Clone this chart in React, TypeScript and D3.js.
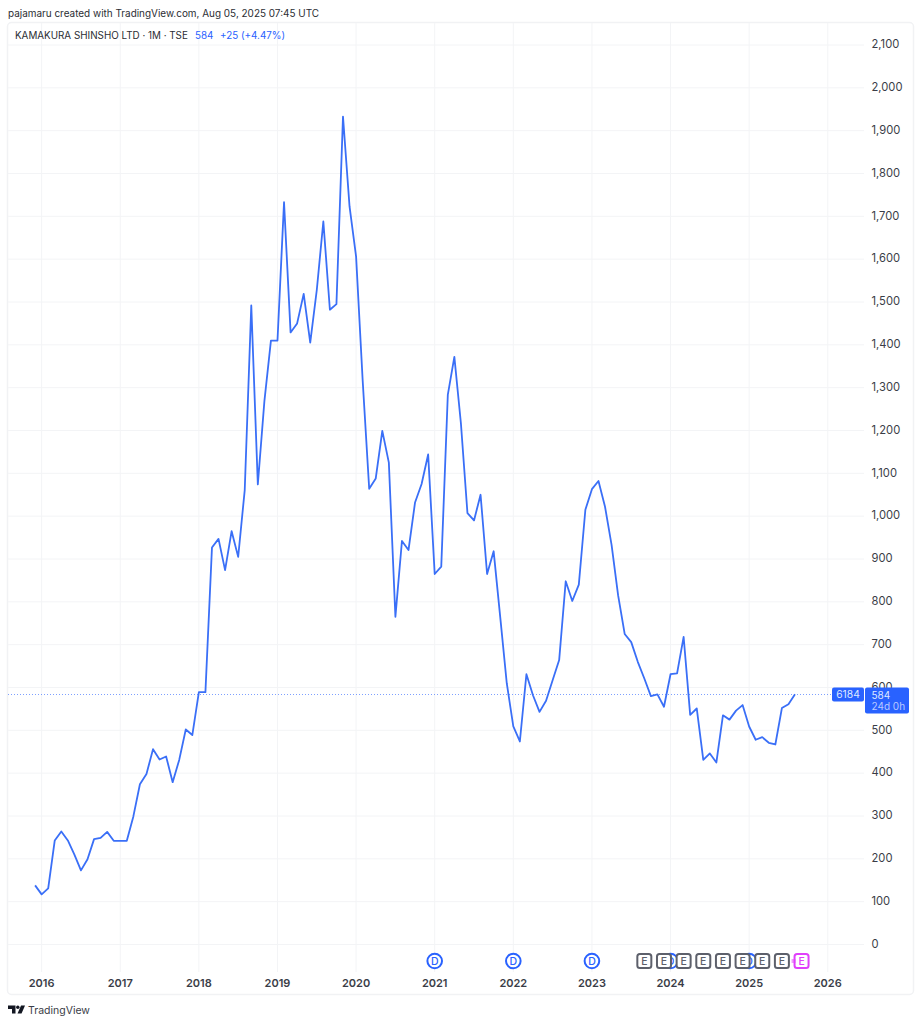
import React from 'react';
import * as d3 from 'd3';

// monthly closes, Dec 2015 to Aug 2025
const closes = [
  138, 117, 131, 243, 264, 243, 210, 173, 199, 246, 249, 263,
  242, 242, 242, 299, 374, 398, 456, 432, 439, 379, 431, 502,
  489, 589, 589, 927, 947, 874, 965, 905, 1061, 1492, 1074, 1268,
  1410, 1410, 1733, 1429, 1450, 1519, 1405, 1528, 1688, 1482, 1495, 1933,
  1723, 1606, 1318, 1064, 1088, 1199, 1125, 765, 942, 921, 1032, 1075,
  1144, 865, 882, 1283, 1372, 1217, 1007, 990, 1050, 865, 918, 765,
  610, 509, 474, 631, 582, 543, 569, 617, 664, 848, 802, 840,
  1015, 1063, 1082, 1022, 933, 815, 725, 706, 660, 621, 580, 584,
  555, 631, 633, 718, 536, 551, 431, 446, 425, 535, 525, 546,
  559, 509, 478, 484, 471, 467, 552, 561, 584,
];
const yearLabels = [2016, 2017, 2018, 2019, 2020, 2021, 2022, 2023, 2024, 2025, 2026];
const priceTicks = d3.range(0, 2200, 100);
// bar indexes of the event flags
const dividendBars = [61, 73, 85, 97, 109];
const earningsBars = [93, 96, 99, 102, 105, 108, 111, 114];
const nextEarningsBar = 117;
const lastPrice = 584;

const FONT = 'Inter, "Liberation Sans", sans-serif';
const BLUE = '#2962ff';
const LINE = '#3a6ff7';
const GRID = '#f3f4f6';
const INK = '#3a3d47';
const GREY = '#5d606b';
const PINK = '#e040fb';

const x = d3.scaleLinear().domain([0, 116]).range([35.1, 795]);
const y = d3.scaleLinear().domain([0, 2100]).range([944.5, 45]);
// Dec 2015 is bar 0, so January of each year falls on 1, 13, 25...
const yearBar = (yr: number) => (yr - 2016) * 12 + 1;

const path = d3.line<number>().x((_, i) => x(i)).y((d) => y(d))(closes) as string;
const lastY = Math.floor(y(lastPrice)) + 0.5;

export default function App() {
  return (
    <svg
      width={922}
      height={1024}
      style={{ position: 'absolute', left: 0, top: 0, background: '#fff' }}
      fontFamily={FONT}
    >
      <text x={8} y={16.5} fontSize={9.95} fill="#2b2d33">
        pajamaru created with TradingView.com, Aug 05, 2025 07:45 UTC
      </text>

      <rect x={7.5} y={22.5} width={906} height={972} rx={4} fill="none" stroke="#f1f2f4" strokeWidth={1.5} />

      {priceTicks.map((t) => (
        <line key={t} x1={8} x2={864} y1={y(t)} y2={y(t)} stroke={GRID} strokeWidth={1} />
      ))}
      {yearLabels.map((yr) => (
        <line key={yr} x1={x(yearBar(yr))} x2={x(yearBar(yr))} y1={23} y2={972} stroke={GRID} strokeWidth={1} />
      ))}

      <line x1={8} x2={832} y1={lastY} y2={lastY} stroke={BLUE} strokeWidth={1} strokeDasharray="1 2" opacity={0.6} />
      <path d={path} fill="none" stroke={LINE} strokeWidth={1.8} strokeLinejoin="round" />

      <text y={39} fontSize={9.85} fill="#2b2d33">
        <tspan x={15}>KAMAKURA SHINSHO LTD · 1M · TSE</tspan>
        <tspan x={195} fill={BLUE}>{lastPrice}</tspan>
        <tspan x={220} fill={BLUE}>+25 (+4.47%)</tspan>
      </text>

      {priceTicks.map((t) => (
        <text key={t} x={871.5} y={y(t) + 3.3} fontSize={11.2} fill={INK}>
          {d3.format(',')(t)}
        </text>
      ))}

      {yearLabels.map((yr) => (
        <text key={yr} x={x(yearBar(yr))} y={987} fontSize={11} fontWeight={600} fill={INK} textAnchor="middle">
          {yr}
        </text>
      ))}

      {dividendBars.map((b) => (
        <g key={b} transform={`translate(${x(b)},961)`}>
          <circle r={7.3} fill="#fff" stroke={BLUE} strokeWidth={2} />
          <text y={3.7} fontSize={10.5} fontWeight={500} fill={BLUE} textAnchor="middle">D</text>
        </g>
      ))}

      {earningsBars.map((b) => (
        <g key={b} transform={`translate(${x(b)},961)`}>
          <rect x={-7} y={-7} width={14} height={14} rx={2.5} fill="#fff" stroke={GREY} strokeWidth={2} />
          <text y={3.7} fontSize={10.5} fontWeight={500} fill={GREY} textAnchor="middle">E</text>
        </g>
      ))}
      <g transform={`translate(${x(nextEarningsBar)},961)`}>
        <path d="M-10 -1h4M-10 1h4" stroke={PINK} strokeWidth={1} />
        <rect x={-7} y={-7} width={14} height={14} rx={2.5} fill="none" stroke={PINK} strokeWidth={2} />
        <text y={3.7} fontSize={10.5} fontWeight={500} fill={PINK} textAnchor="middle">E</text>
      </g>

      <rect x={832} y={687.5} width={32} height={14} rx={2} fill={BLUE} />
      <text x={848} y={698.3} fontSize={10.3} fill="#dfe7ff" textAnchor="middle">6184</text>
      <rect x={865} y={687.5} width={44} height={26} rx={2} fill={BLUE} />
      <text x={871.5} y={698.5} fontSize={10} fill="#dfe7ff">{lastPrice}</text>
      <text x={871.5} y={710} fontSize={10} fill="#b9c9ff">24d 0h</text>

      <g transform="translate(8,1005)" fill="#131722">
        <path d="M0 .5h7.5v8h-3.5v-4.5h-4z" />
        <circle cx={9.8} cy={2.3} r={1.7} />
        <path d="M13 .5h4l-3.5 8h-4z" />
      </g>
      <text x={28} y={1014} fontSize={10.5} fill="#3a3d47">TradingView</text>
    </svg>
  );
}
